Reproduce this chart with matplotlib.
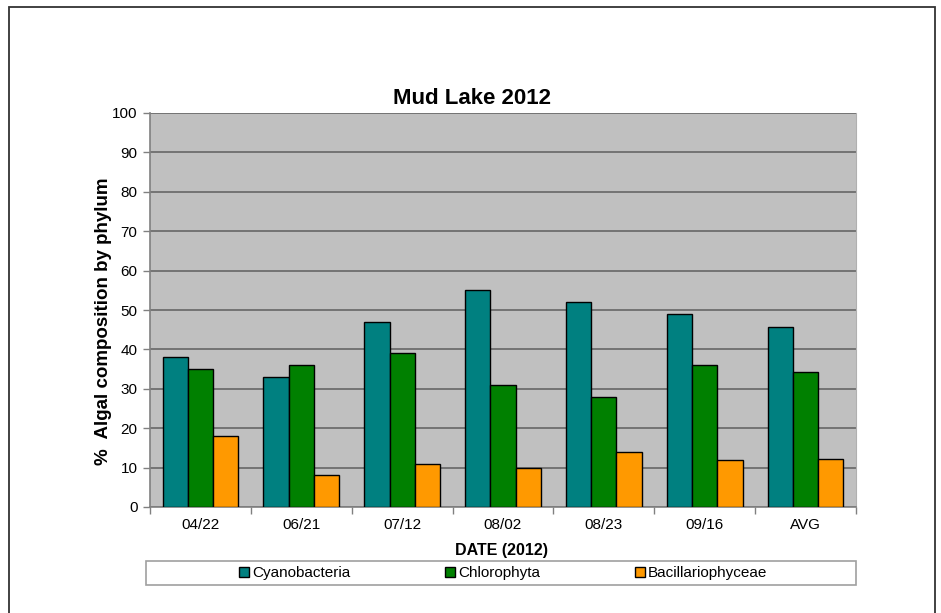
import matplotlib.pyplot as plt
import numpy as np
from matplotlib.patches import Rectangle

plt.rcParams['font.family'] = ['Liberation Sans', 'DejaVu Sans']

dates = ['04/22', '06/21', '07/12', '08/02', '08/23', '09/16', 'AVG']
cyanobacteria = [38, 33, 47, 55, 52, 49, 45.7]
chlorophyta = [35, 36, 39, 31, 28, 36, 34.2]
bacillariophyceae = [18, 8, 11, 10, 14, 12, 12.2]

series = [
    ('Cyanobacteria', cyanobacteria, '#008080'),
    ('Chlorophyta', chlorophyta, '#008000'),
    ('Bacillariophyceae', bacillariophyceae, '#FF9900'),
]

fig = plt.figure(figsize=(9.41, 6.13), dpi=100)

# outer frame like the exported chart
fig.patches.append(Rectangle((9 / 941, -0.05), 926 / 941, 1.05 - 7 / 613,
                             transform=fig.transFigure, fill=False,
                             edgecolor='#333333', linewidth=1.3))

ax = fig.add_axes([150 / 941, 1 - 507 / 613, 706 / 941, 394 / 613])
ax.set_facecolor('#C0C0C0')

x = np.arange(len(dates))
w = 0.25
for i, (name, vals, col) in enumerate(series):
    ax.bar(x + (i - 1) * w, vals, w, color=col, edgecolor='black',
           linewidth=1, label=name, zorder=3)

ax.set_xlim(-0.5, len(dates) - 0.5)
ax.set_ylim(0, 100)
ax.set_yticks(np.arange(0, 101, 10))
ax.yaxis.grid(True, color='#6e6e6e', linewidth=1.3, zorder=1)
ax.set_axisbelow(True)

ax.set_xticks(x)
ax.set_xticklabels(dates)
ax.set_xticks(np.arange(-0.5, len(dates), 1), minor=True)
ax.tick_params(axis='x', which='major', length=0, pad=8, labelsize=11)
ax.tick_params(axis='x', which='minor', length=5, color='#808080', width=1)
ax.tick_params(axis='y', length=5, color='#808080', width=1, labelsize=11, pad=4)

ax.spines['top'].set_visible(False)
ax.spines['left'].set_color('#808080')
ax.spines['bottom'].set_color('#808080')
ax.spines['right'].set_color('#b0b0b0')
ax.spines['left'].set_linewidth(1.2)
ax.spines['bottom'].set_linewidth(1.2)

fig.text(472 / 941, 1 - 99 / 613, 'Mud Lake 2012', ha='center', va='center',
         fontsize=16, fontweight='bold')
fig.text(104 / 941, 1 - 321 / 613, '%  Algal composition by phylum', ha='center',
         va='center', rotation=90, fontsize=13.5, fontweight='bold')
fig.text(502 / 941, 1 - 550 / 613, 'DATE (2012)', ha='center', va='center',
         fontsize=11.5, fontweight='bold')

# legend box
fig.patches.append(Rectangle((146 / 941, 1 - 585 / 613), 710 / 941, 24 / 613,
                             transform=fig.transFigure, fill=True, facecolor='white',
                             edgecolor='#a0a0a0', linewidth=1.2))
handles, labels = ax.get_legend_handles_labels()
fig.legend(handles, labels, loc='center', bbox_to_anchor=(503 / 941, 1 - 573 / 613),
           ncol=3, frameon=False, fontsize=11, handlelength=0.65, handleheight=0.65,
           handletextpad=0.2, columnspacing=6.2)

fig.savefig('out.png', dpi=100)
